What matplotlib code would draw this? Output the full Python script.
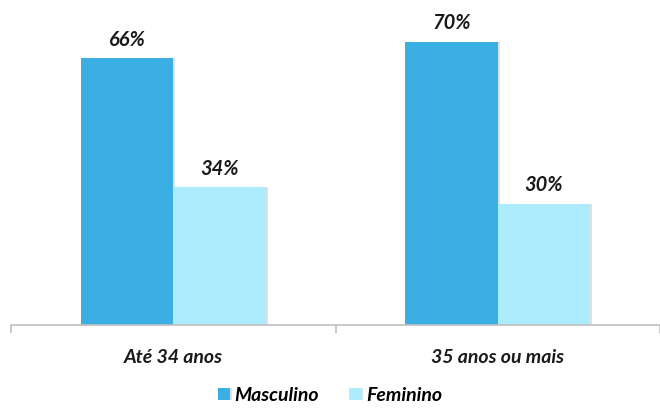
import numpy as np
import matplotlib
matplotlib.use('Agg')
import matplotlib.pyplot as plt
import matplotlib.patheffects as pe

plt.rcParams['font.family'] = ['Lato', 'DejaVu Sans']

categories = ['Até 34 anos', '35 anos ou mais']
masculino = [66, 70]
feminino = [34, 30]
series_names = ['Masculino', 'Feminino']
colors = ['#3BAFE4', '#ADECFC']

fig = plt.figure(figsize=(6.6, 4.08), dpi=100)
# axis baseline at y=325px, left edge at x=11px, 330px per group
ax = fig.add_axes([11 / 660, (408 - 325) / 408, 649 / 660, 324 / 408])

x = np.arange(len(categories))
width = 0.285
shadow = [pe.SimplePatchShadow(offset=(1.5, 0), shadow_rgbFace='#c8ccd0', alpha=0.6), pe.Normal()]
bars_m = ax.bar(x - width / 2, masculino, width, color=colors[0], label=series_names[0])
bars_f = ax.bar(x + width / 2, feminino, width, color=colors[1], label=series_names[1])
for b in list(bars_m) + list(bars_f):
    b.set_path_effects(shadow)

for bars, vals in [(bars_m, masculino), (bars_f, feminino)]:
    for b, v in zip(bars, vals):
        ax.text(b.get_x() + b.get_width() / 2, v + 3.0, f'{v}%', ha='center', va='baseline',
                fontsize=14.5, fontweight='bold', style='italic', color='#1a1a1a')

ax.set_xlim(-0.5, 1.5 - 11 / 330)
ax.set_ylim(0, 80)
ax.set_yticks([])
for s in ['top', 'right', 'left']:
    ax.spines[s].set_visible(False)
ax.spines['bottom'].set_color('#BFBFBF')
ax.spines['bottom'].set_linewidth(1.2)

ax.set_xticks([-0.5, 0.5, 1.5], minor=True)
ax.tick_params(axis='x', which='minor', length=6, color='#BFBFBF', width=1.2)
ax.set_xticks(x)
ax.set_xticklabels(categories, fontsize=14, fontweight='bold', style='italic', color='#1a1a1a')
ax.tick_params(axis='x', which='major', length=0, pad=17)

leg = fig.legend(loc='lower center', bbox_to_anchor=(0.5, -0.033), ncol=2, frameon=False,
                 prop={'size': 14, 'weight': 'bold', 'style': 'italic'},
                 handlelength=0.6, handleheight=0.6, handletextpad=0.25, columnspacing=1.55)

fig.savefig('out.png', dpi=100)
